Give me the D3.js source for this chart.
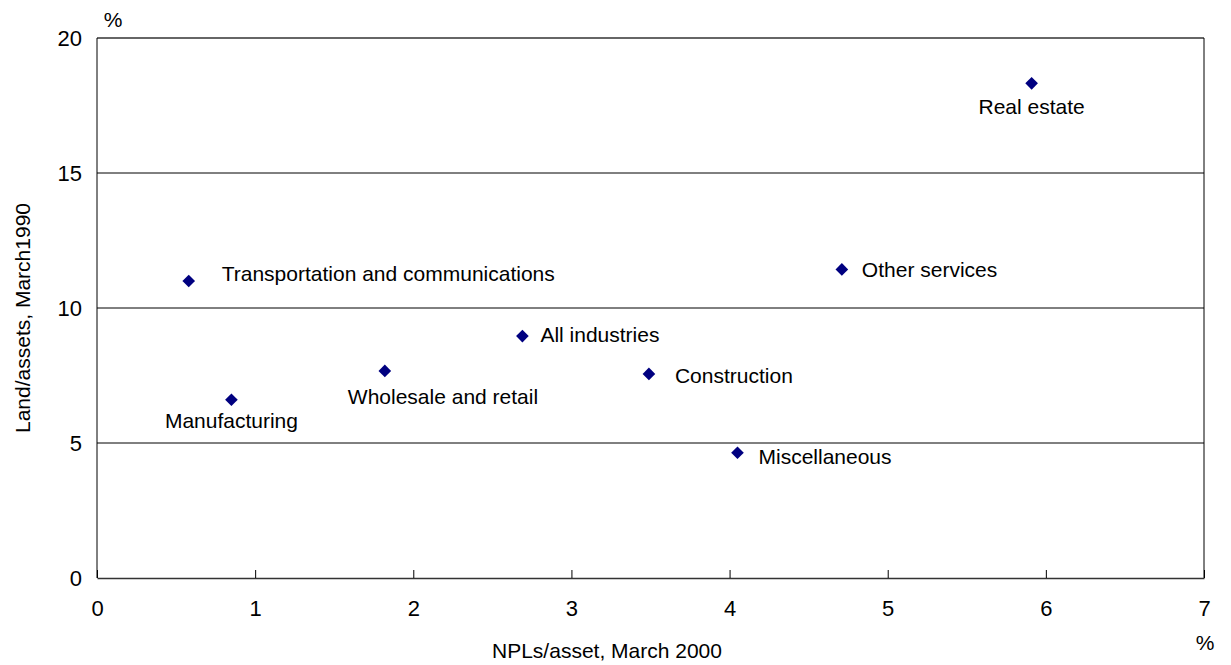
<!DOCTYPE html>
<html>
<head>
<meta charset="utf-8">
<script src="https://cdn.jsdelivr.net/npm/d3@7"></script>
<style>
  body { margin: 0; background: #fff; }
  text { font-family: "Liberation Sans", Arial, sans-serif; fill: #000; }
</style>
</head>
<body>
<div id="chart"></div>
<script>
// Industry scatter: NPL ratio (2000) vs land holdings ratio (1990)
const industries = ['Transportation and communications', 'Manufacturing', 'Wholesale and retail',
  'All industries', 'Construction', 'Miscellaneous', 'Real estate', 'Other services'];
const nplRatio = [0.58, 0.85, 1.82, 2.69, 3.49, 4.05, 5.91, 4.71];
const landRatio = [11.0, 6.6, 7.67, 8.96, 7.56, 4.64, 18.32, 11.43];
const xTicks = [0, 1, 2, 3, 4, 5, 6, 7];
const yTicks = [0, 5, 10, 15, 20];

// where each label sits relative to its marker
const labelPlace = {
  'Transportation and communications': { dx: 33, dy: 0, anchor: 'start' },
  'Manufacturing': { dx: 0, dy: 28, anchor: 'middle' },
  'Wholesale and retail': { dx: -37, dy: 33, anchor: 'start' },
  'All industries': { dx: 18, dy: 6, anchor: 'start' },
  'Construction': { dx: 26, dy: 9, anchor: 'start' },
  'Miscellaneous': { dx: 21, dy: 11, anchor: 'start' },
  'Real estate': { dx: 0, dy: 31, anchor: 'middle' },
  'Other services': { dx: 20, dy: 8, anchor: 'start' }
};

const width = 1231, height = 665;
const plot = { left: 97, right: 1204, top: 38, bottom: 578 };

const svg = d3.select('#chart').append('svg')
  .attr('width', width)
  .attr('height', height);

const x = d3.scaleLinear().domain([0, 7]).range([plot.left, plot.right]);
const y = d3.scaleLinear().domain([0, 20]).range([plot.bottom, plot.top]);

// gridlines
svg.append('g')
  .selectAll('line')
  .data(yTicks.filter(d => d > 0 && d < 20))
  .enter().append('line')
  .attr('x1', plot.left).attr('x2', plot.right)
  .attr('y1', d => y(d)).attr('y2', d => y(d))
  .attr('stroke', '#000').attr('stroke-width', 1);

// frame
svg.append('line')
  .attr('x1', plot.left).attr('x2', plot.right)
  .attr('y1', plot.top).attr('y2', plot.top)
  .attr('stroke', '#333').attr('stroke-width', 1.6);
svg.append('line')
  .attr('x1', plot.left).attr('x2', plot.left)
  .attr('y1', plot.top).attr('y2', plot.bottom)
  .attr('stroke', '#000').attr('stroke-width', 1);
svg.append('line')
  .attr('x1', plot.right).attr('x2', plot.right)
  .attr('y1', plot.top).attr('y2', plot.bottom)
  .attr('stroke', '#000').attr('stroke-width', 1);

// x axis with inward ticks
const xAxis = svg.append('g')
  .attr('transform', `translate(0,${plot.bottom})`)
  .call(d3.axisBottom(x).tickValues(xTicks).tickFormat(d3.format('d'))
    .tickSize(-8).tickSizeOuter(0).tickPadding(22));
xAxis.select('.domain').attr('stroke', '#333').attr('stroke-width', 1.6);
xAxis.selectAll('.tick line').attr('stroke', '#000');
xAxis.selectAll('.tick text')
  .attr('font-size', '22px')
  .attr('font-family', '"Liberation Sans", Arial, sans-serif')
  .attr('fill', '#000');

// y axis labels only
const yAxis = svg.append('g')
  .attr('transform', `translate(${plot.left},0)`)
  .call(d3.axisLeft(y).tickValues(yTicks).tickFormat(d3.format('d')).tickSize(0).tickPadding(15));
yAxis.select('.domain').remove();
yAxis.selectAll('.tick text')
  .attr('font-size', '22px')
  .attr('font-family', '"Liberation Sans", Arial, sans-serif')
  .attr('fill', '#000');

// unit marks and titles
svg.append('text')
  .attr('x', 113).attr('y', 27)
  .attr('text-anchor', 'middle')
  .attr('font-size', '21px')
  .text('%');
svg.append('text')
  .attr('x', 1205).attr('y', 650)
  .attr('text-anchor', 'middle')
  .attr('font-size', '21px')
  .text('%');
svg.append('text')
  .attr('x', 607).attr('y', 658)
  .attr('text-anchor', 'middle')
  .attr('font-size', '21px')
  .text('NPLs/asset, March 2000');
svg.append('text')
  .attr('transform', 'translate(30,318) rotate(-90)')
  .attr('text-anchor', 'middle')
  .attr('font-size', '21px')
  .text('Land/assets, March1990');

// points
const points = industries.map((name, i) => ({ name, npl: nplRatio[i], land: landRatio[i] }));

const marks = svg.append('g')
  .selectAll('.pt')
  .data(points)
  .enter().append('g')
  .attr('class', 'pt')
  .attr('transform', d => `translate(${x(d.npl)},${y(d.land)})`);

marks.append('path')
  .attr('d', d3.symbol(d3.symbolSquare, 80))
  .attr('transform', 'rotate(45)')
  .attr('fill', '#000080');

marks.append('text')
  .attr('x', d => labelPlace[d.name].dx)
  .attr('y', d => labelPlace[d.name].dy)
  .attr('text-anchor', d => labelPlace[d.name].anchor)
  .attr('font-size', '21px')
  .text(d => d.name);
</script>
</body>
</html>
